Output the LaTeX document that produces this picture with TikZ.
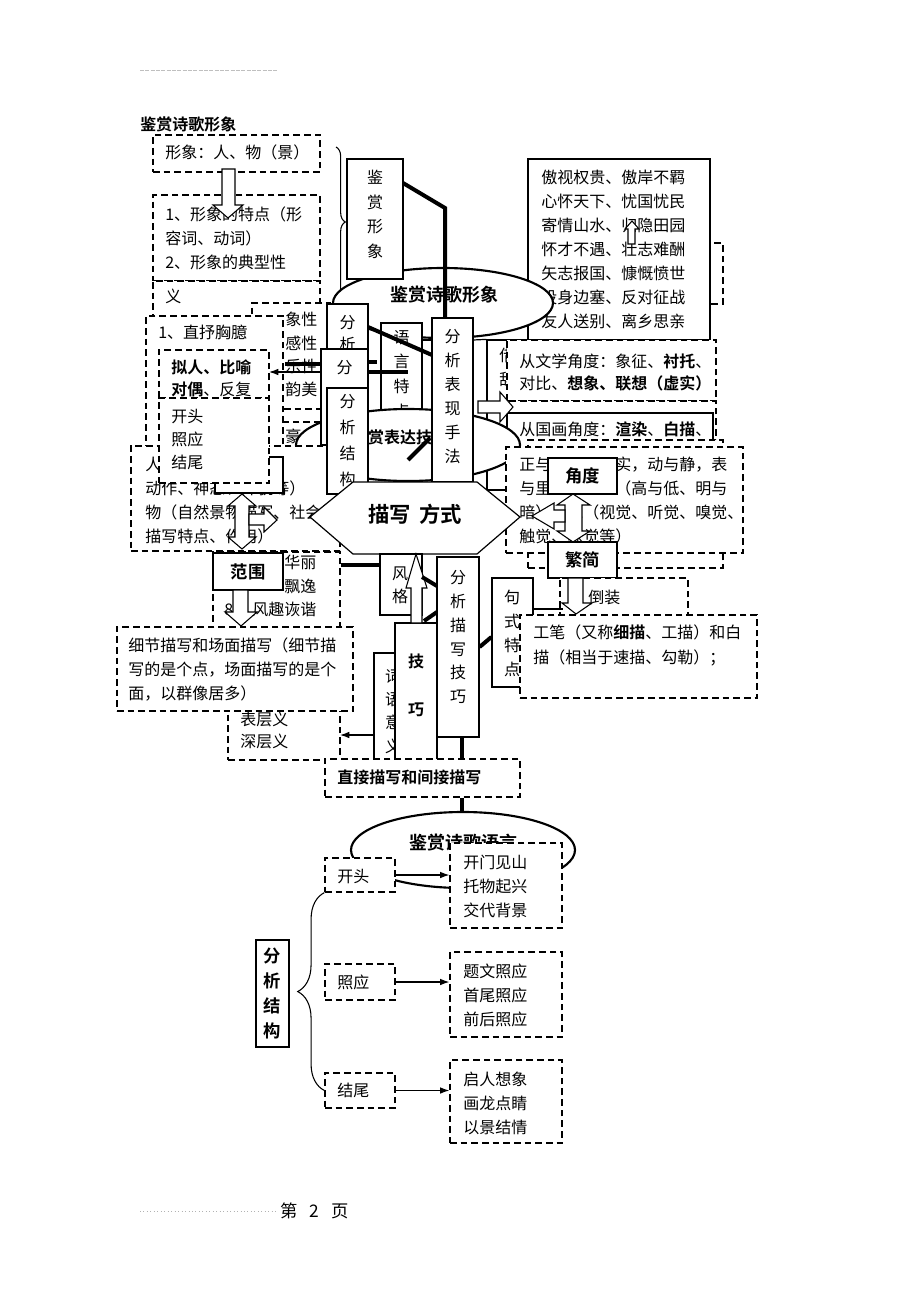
\documentclass[tikz,border=0pt]{standalone}
\usepackage{fontspec}
\newfontfamily\cjk[BoldFont={Noto Sans CJK SC Bold}]{Noto Sans CJK SC}
\usetikzlibrary{fit,shapes.geometric,decorations.pathreplacing,arrows.meta}

\begin{document}
\begin{tikzpicture}[x=0.75pt,y=0.75pt,yscale=-1,xscale=1,
  sbox/.style={draw, fill=white, line width=0.9pt, inner sep=0pt},
  dbox/.style={draw, fill=white, line width=0.9pt, dash pattern=on 5pt off 3pt, inner sep=0pt},
  txt/.style={anchor=north west, inner sep=0pt, align=left, font=\cjk\fontsize{12}{18}\selectfont},
  vtxt/.style={anchor=north, inner sep=0pt, align=center, font=\cjk\fontsize{12}{18.5}\selectfont},
  btxt/.style={inner sep=0pt, font=\cjk\bfseries\fontsize{13}{18}\selectfont},
  heavy/.style={line width=3pt},
  barrow/.style={draw, fill=white, line width=0.8pt},
  oval/.style={draw, ellipse, fill=white, line width=1.6pt, inner sep=0pt},
  pointer/.style={-{Latex[length=7pt,width=5pt]}, line width=0.9pt}
]
\useasboundingbox (0,0) rectangle (920,1302);
\fill[white] (0,0) rectangle (920,1302);

%Page rules
\draw[gray!50, dash pattern=on 3pt off 1pt, line width=0.6pt] (140,70) -- (278,70);
\draw[gray!60, dotted, line width=0.6pt] (140,1211) -- (276,1211);
% Text Node
\node[anchor=west, inner sep=0pt, font=\cjk\fontsize{13}{15}\selectfont] (pagenum) at (280,1211) {第\hspace{9pt}2\hspace{9pt}页};

% Text Node
\node[btxt, anchor=west, font=\cjk\bfseries\fontsize{12}{14}\selectfont] (title) at (140,124) {鉴赏诗歌形象};

%Shape: Rectangle
\node[dbox, fit={(153,135) (320,172)}] (xingxiang) {};
\node[txt] (xingxiangT) at (165,145) {形象：人、物（景）};
\node[dbox, fit={(153,195) (320,281)}] (tedian) {};
\node[txt] (tedianT) at (165,207) {1、形象的特点（形\\容词、动词）\\2、形象的典型性};
\node[dbox, fit={(153,281) (320,330)}] (yiyi) {};
\node[txt] (yiyiT) at (165,289) {义};
%Shape: Down Arrow
\draw[barrow] (222,169) -- (235,169) -- (235,205) -- (243,205) -- (228,218) -- (213,205) -- (222,205) -- cycle;
%Shape: Brace
\draw[decorate, decoration={brace, amplitude=7pt}, line width=0.8pt] (336,147) -- (336,297);

%Shape: Rectangle
\node[dbox, fit={(690,243) (723,304)}] (aoshiR) {};
\node[sbox, fit={(528,159) (710,340)}] (aoshi) {};
\node[txt] (aoshiT) at (541,170) {傲视权贵、傲岸不羁\\心怀天下、忧国忧民\\寄情山水、归隐田园\\怀才不遇、壮志难酬\\矢志报国、慷慨愤世\\投身边塞、反对征战\\友人送别、离乡思亲};
%Shape: Up Arrow
\draw[barrow] (628,244) -- (635,244) -- (635,229) -- (639,229) -- (632,221) -- (625,229) -- (628,229) -- cycle;

%Shape: Ellipse
\node[oval, minimum width=165pt, minimum height=52.5pt] (xingxiangE) at (443,303) {};
\node[btxt, font=\cjk\bfseries\fontsize{13.5}{16}\selectfont] (xingxiangL) at (444,295) {鉴赏诗歌形象};

%Shape: Rectangle
\node[sbox, fit={(347,159) (403,279)}] (jianshang) {};
\node[vtxt] (jianshangT) at (375,170) {鉴\\赏\\形\\象};
%Straight Lines
\draw[heavy] (403,183) -- (445,208) -- (445,318);

%Shape: Rectangle
\node[dbox, fit={(252,303) (330,409)}] (xiangxing) {};
\node[txt, font=\cjk\fontsize{12}{17.5}\selectfont] (xiangxingT) at (285,312) {象性\\感性\\乐性\\韵美};
\node[dbox, fit={(270,422) (330,470)}] (haofang) {};
\node[txt] (haofangT) at (285,429) {豪};
\node[sbox, fit={(381,323) (422,440)}] (yuyan) {};
\node[vtxt] (yuyanT) at (401.5,330) {语\\言\\特\\点};
\node[sbox, fit={(487,340) (530,490)}] (jiejing) {};
\node[txt] (jiejingT) at (499,348) {借\\辞};
\draw[line width=0.9pt] (473,340) -- (jiejing.north west);
\node[dbox, fit={(507,340) (716,401)}] (wenxue) {};
\node[txt, font=\cjk\fontsize{12}{16.5}\selectfont] (wenxueT) at (519,354) {从文学角度：象征、\textbf{衬托}、\\对比、\textbf{想象、联想（虚实）}};
\node[dbox, fit={(507,401) (716,440)}] (duojiao) {};
\node[sbox, fit={(507,413) (713,460)}] (guohua) {};
\node[txt] (guohuaT) at (519,422) {从国画角度：\textbf{渲染}、\textbf{白描}、};
\node[dbox, fit={(528,440) (723,568)}] (fanjianB) {};
%Shape: Right Arrow
\draw[barrow] (478,401) -- (500,401) -- (500,392) -- (513,407) -- (500,422) -- (500,413) -- (478,413) -- cycle;

%Shape: Ellipse
\node[oval, minimum width=168pt, minimum height=54pt] (biaodaE) at (408,445) {};
\node[btxt, font=\cjk\bfseries\fontsize{12}{14}\selectfont] (biaodaL) at (400,437) {\phantom{鉴}赏表达技\phantom{巧}};

%Shape: Rectangle
\node[dbox, fit={(146,316) (283,446)}] (zhishu) {};
\node[txt] (zhishuT) at (158,325) {1、直抒胸臆};
\node[dbox, fit={(131,446) (340,551)}] (renwu) {};
\node[txt] (renwuT) at (145,457) {人\\动作、神态、外貌等）\\物（自然景物描写、社会\\描写特点、作用）};
\node[sbox, fit={(215,457) (283,493)}] (miaoxieF) {};
\node[dbox, fit={(159,350) (269,398)}] (xiuci) {};
\node[txt, font=\cjk\fontsize{12}{16.5}\selectfont] (xiuciT) at (171,360) {\textbf{拟人、比喻}\\\textbf{对偶}、反复};
\node[dbox, fit={(159,398) (269,483)}] (jiegouL) {};
\node[txt, font=\cjk\fontsize{12}{17.25}\selectfont] (jiegouLT) at (171,409) {开头\\照应\\结尾};

%Shape: Rectangle
\node[sbox, fit={(327,304) (368,360)}] (fenxiA) {};
\node[vtxt, font=\cjk\fontsize{12}{16.5}\selectfont] (fenxiAT) at (347.5,315) {分\\析};
\node[sbox, fit={(321,349) (368,445)}] (fenxiB) {};
\node[vtxt] (fenxiBT) at (344.5,360) {分};
%Straight Lines
\draw[heavy] (368,327) -- (432,355);
\draw[heavy] (368,372) -- (408,372);
\draw[heavy] (368,362) -- (377,362);
\draw[heavy] (285,364) -- (321,364);
\draw[line width=0.9pt] (422,340) -- (432,340);
\draw[heavy] (408,460) -- (430,438);
\coordinate (xiuciIn) at (269,372);
\draw[pointer] (fenxiB.west |- xiuciIn) -- (xiuciIn);
%Shape: Rectangle
\node[sbox, fit={(327,388) (368,494)}] (jiegouM) {};
\node[vtxt, font=\cjk\fontsize{12}{19.5}\selectfont] (jiegouMT) at (347.5,394) {分\\析\\结\\构};
\node[sbox, fit={(432,318) (473,482)}] (biaoxian) {};
\node[vtxt, font=\cjk\fontsize{12}{18}\selectfont] (biaoxianT) at (452.5,329) {分\\析\\表\\现\\手\\法};

%Shape: Rectangle
\node[dbox, fit={(506,447) (743,553)}] (duibi) {};
\node[txt] (duibiT) at (519,457) {正与\hspace{48pt}实，动与静，表\\与里\hspace{48pt}（高与低、明与\\暗）\hspace{12pt}觉（视觉、听觉、嗅觉、\\触觉、味觉等）};

%Shape: Hexagon
\draw[line width=0.9pt, fill=white] (310,517) -- (353,482) -- (477,482) -- (520,517) -- (477,554) -- (353,554) -- cycle;
\node[btxt, font=\cjk\bfseries\fontsize{16}{18}\selectfont] (miaoxieL) at (415,514) {描写\hspace{6pt}方式};

%Shape: Rectangle
\node[sbox, fit={(548,458) (617,494)}] (jiaodu) {};
\node[btxt] (jiaoduL) at (jiaodu) {角度};
\node[sbox, fit={(548,542) (617,578)}] (fanjian) {};
\node[btxt] (fanjianL) at (fanjian) {繁简};
%Shape: Up Down Arrow
\draw[barrow] (573,494) -- (590,505) -- (582,505) -- (582,531) -- (590,531) -- (573,542) -- (557,531) -- (565,531) -- (565,505) -- (557,505) -- cycle;
\draw[barrow] (565,510) -- (554,510) -- (554,503) -- (532,516) -- (554,529) -- (554,522) -- (565,522) -- cycle;
\draw[barrow] (242,494) -- (256,506) -- (249,506) -- (249,537) -- (256,537) -- (242,549) -- (228,537) -- (235,537) -- (235,506) -- (228,506) -- cycle;
\draw[barrow] (249,514) -- (264,514) -- (264,507) -- (277,520) -- (264,532) -- (264,525) -- (249,525) -- cycle;

%Shape: Rectangle
\node[dbox, fit={(213,552) (340,640)}] (fengge) {};
\node[txt, font=\cjk\fontsize{12}{17.6}\selectfont] (fenggeT) at (252,555) {\hspace{24pt}华丽\\\hspace{24pt}飘逸\\风趣诙谐};
\node[anchor=west, inner sep=0pt, font=\cjk\fontsize{12}{14}\selectfont] (num) at (224,610) {8};
\node[sbox, fit={(213,553) (283,590)}] (fanwei) {};
\node[btxt] (fanweiL) at (fanwei) {范围};
%Shape: Down Arrow
\draw[barrow] (233,590) -- (248,590) -- (248,612) -- (257,612) -- (241,626) -- (225,612) -- (233,612) -- cycle;
%Shape: Rectangle
\node[dbox, fit={(228,700) (340,760)}] (cengyi) {};
\node[txt, font=\cjk\fontsize{12}{16.5}\selectfont] (cengyiT) at (240,712) {表层义\\深层义};
\node[dbox, fit={(117,627) (353,711)}] (xijie) {};
\node[txt] (xijieT) at (128,638) {细节描写和场面描写（细节描\\写的是个点，场面描写的是个\\面，以群像居多）};
\node[sbox, fit={(380,554) (422,615)}] (fenggeB) {};
\node[vtxt, font=\cjk\fontsize{12}{17.25}\selectfont] (fenggeBT) at (400,567) {风\\格};
\draw[heavy] (fengge.east |- 0,565) -- (fenggeB.west |- 0,565);
\node[sbox, fit={(374,653) (400,760)}] (ciyu) {};
\node[vtxt, font=\cjk\fontsize{12}{17.5}\selectfont] (ciyuT) at (393,669) {词\\语\\意\\义};
\coordinate (cengyiIn) at (340,735);
\draw[pointer] (ciyu.west |- cengyiIn) -- (cengyiIn);
\node[sbox, fit={(395,623) (437,760)}] (jiqiao) {};
\node[btxt, align=center, anchor=north, font=\cjk\bfseries\fontsize{12}{36}\selectfont] (jiqiaoL) at (416,654) {技\\巧};
%Shape: Up Arrow
\draw[barrow] (411,623) -- (422,623) -- (422,588) -- (427,588) -- (416,554) -- (406,588) -- (411,588) -- cycle;
%Straight Lines
\draw[heavy] (422,577) -- (437,586);
\draw[heavy] (424,621) -- (437,612);
%Shape: Rectangle
\node[sbox, fit={(437,557) (479,737)}] (miaoxieJ) {};
\node[vtxt, font=\cjk\fontsize{12}{17.9}\selectfont] (miaoxieJT) at (458,570) {分\\析\\描\\写\\技\\巧};
\node[sbox, fit={(492,578) (533,687)}] (jushi) {};
\node[vtxt, font=\cjk\fontsize{12}{18}\selectfont] (jushiT) at (512,590) {句\\式\\特\\点};
\draw[heavy] (miaoxieJ.east |- 0,647) -- (jushi.west |- 0,637);
\node[dbox, fit={(560,578) (688,640)}] (daozhuang) {};
\node[txt, anchor=west] (daozhuangT) at (588,597) {倒装};
\draw[line width=0.9pt] (jushi.east |- 0,609) -- (563,609);
%Shape: Down Arrow
\draw[barrow] (568,578) -- (583,578) -- (583,603) -- (592,603) -- (576,614) -- (562,603) -- (568,603) -- cycle;
%Shape: Rectangle
\node[dbox, fit={(520,615) (757,698)}] (gongbi) {};
\node[txt, font=\cjk\fontsize{12}{18.75}\selectfont] (gongbiT) at (533,625) {工笔（又称\textbf{细描}、工描）和白\\描（相当于速描、勾勒）；};

\node[dbox, fit={(325,759) (520,797)}] (zhijie) {};
\node[btxt, anchor=west, font=\cjk\bfseries\fontsize{12}{14}\selectfont] (zhijieL) at (337,777) {直接描写和间接描写};
\draw[heavy] (miaoxieJ.south -| 462,0) -- (zhijie.north -| 462,0);

%Shape: Ellipse
\node[oval, minimum width=168pt, minimum height=57pt] (yuyanE) at (463,850) {};
\node[btxt, font=\cjk\bfseries\fontsize{13.5}{16}\selectfont] (yuyanL) at (463,843) {鉴赏诗歌语言};
\draw[heavy] (zhijie.south -| 462,0) -- (yuyanE.north -| 462,0);

%Shape: Rectangle
\node[dbox, fit={(325,858) (395,892)}] (kaitou) {};
\node[txt, anchor=west] (kaitouT) at (337,877) {开头};
\node[dbox, fit={(450,843) (562,928)}] (kaitouR) {};
\node[txt] (kaitouRT) at (463,855) {开门见山\\托物起兴\\交代背景};
\node[dbox, fit={(325,964) (395,1000)}] (zhaoying) {};
\node[txt, anchor=west] (zhaoyingT) at (337,982) {照应};
\node[dbox, fit={(450,952) (562,1037)}] (zhaoyingR) {};
\node[txt] (zhaoyingRT) at (463,964) {题文照应\\首尾照应\\前后照应};
\node[dbox, fit={(325,1073) (395,1108)}] (jiewei) {};
\node[txt, anchor=west] (jieweiT) at (337,1090) {结尾};
\node[dbox, fit={(450,1060) (562,1143)}] (jieweiR) {};
\node[txt] (jieweiRT) at (463,1072) {启人想象\\画龙点睛\\以景结情};
%Straight Lines
\draw[pointer] (kaitou.east) -- (kaitou.east -| kaitouR.west);
\draw[pointer] (zhaoying.east) -- (zhaoying.east -| zhaoyingR.west);
\draw[pointer] (jiewei.east) -- (jiewei.east -| jieweiR.west);

\node[sbox, fit={(256,940) (289,1047)}] (jiegouB) {};
\node[btxt, align=center, anchor=north, font=\cjk\bfseries\fontsize{13}{18.75}\selectfont] (jiegouBL) at (272.5,948) {分\\析\\结\\构};
%Shape: Brace
\draw[decorate, decoration={brace, amplitude=20pt}, line width=0.8pt] (jiewei.west) -- (kaitou.south west);

\end{tikzpicture}
\end{document}
